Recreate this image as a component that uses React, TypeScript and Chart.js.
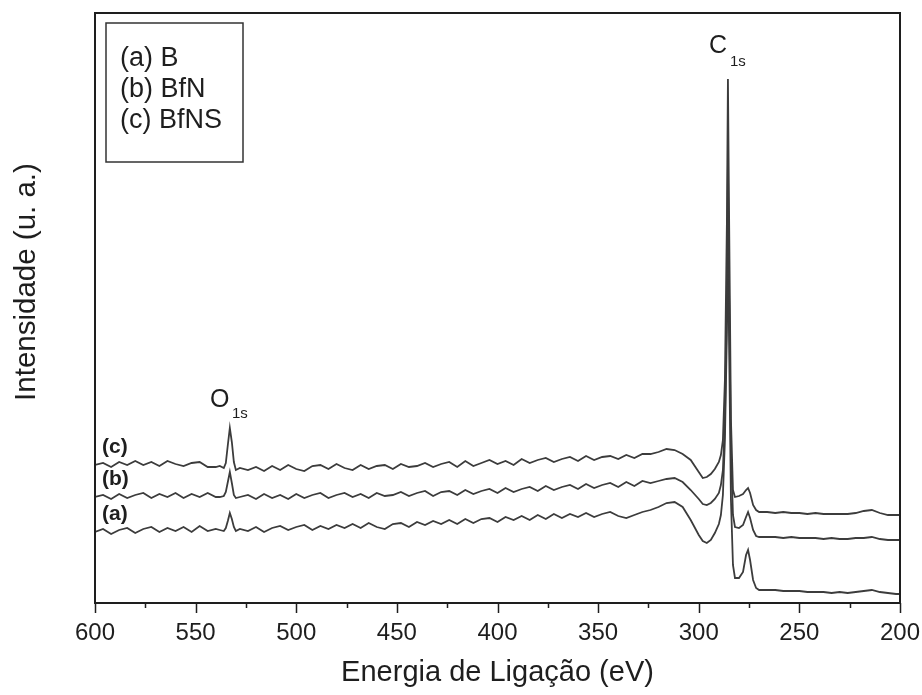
import React, { useEffect, useRef } from 'react';
import { Chart, registerables } from 'chart.js';

Chart.register(...registerables);

const FONT = "'Liberation Sans', Arial, Helvetica, sans-serif";

// Binding energy (eV)
const energies = [
  600, 596, 592, 588, 584, 580, 576, 572, 568, 564, 560, 556, 552, 548, 544, 540,
  538, 536, 535, 534, 533, 532, 531, 530, 528,
  524, 520, 516, 512, 508, 504, 500, 496, 492, 488, 484, 480, 476, 472, 468, 464, 460, 456, 452, 448,
  444, 440, 436, 432, 428, 424, 420, 416, 412, 408, 404, 400, 396, 392, 388, 384, 380, 376, 372, 368,
  364, 360, 356, 352, 348, 344, 340, 336, 332, 328, 324, 320,
  316, 312, 308, 304, 300, 298, 296, 294, 292, 290, 289, 288, 287, 286, 285.5, 285, 284, 283, 282, 280,
  278, 276.5, 275.5, 274.5, 273, 271.5, 270,
  266, 262, 258, 254, 250, 246, 242, 238, 234, 230, 226, 222, 218, 214, 210, 206, 202, 200,
];

// (c) BfNS
const seriesC = [
  138, 140, 136, 141, 138, 142, 138, 141, 137, 142, 139, 137, 140, 141, 136, 136,
  137, 135, 140, 158, 175, 161, 141, 133, 135,
  133, 136, 132, 137, 133, 138, 134, 132, 137, 138, 134, 139, 135, 133, 138, 134, 137, 138, 134, 139,
  136, 137, 140, 136, 139, 141, 136, 142, 137, 140, 143, 139, 142, 138, 144, 140, 143, 145, 141, 144,
  146, 142, 147, 143, 146, 147, 144, 148, 145, 149, 149, 151,
  154, 153, 149, 143, 131, 125, 126, 129, 134, 141, 148, 163, 223, 383, 524, 403, 183, 113, 106, 107,
  109, 113, 115, 110, 98, 93, 91,
  91, 90, 91, 90, 90, 89, 90, 89, 89, 89, 89, 90, 92, 93, 90, 88, 88, 88,
];

// (b) BfN
const seriesB = [
  106, 108, 104, 109, 105, 108, 110, 105, 109, 106, 110, 105, 109, 106, 110, 106,
  106, 107, 111, 121, 131, 120, 108, 105, 106,
  108, 104, 109, 105, 108, 104, 109, 105, 108, 110, 105, 108, 110, 106, 109, 105, 110, 107, 108, 111,
  107, 110, 112, 107, 111, 112, 108, 113, 109, 112, 114, 110, 115, 111, 114, 116, 112, 117, 113, 116,
  118, 114, 119, 115, 118, 120, 116, 121, 117, 122, 120, 122,
  124, 125, 121, 113, 104, 99, 98, 100, 104, 110, 118, 133, 183, 303, 443, 323, 153, 88, 76, 75,
  78, 86, 91, 85, 73, 67, 66,
  66, 66, 65, 66, 65, 65, 65, 64, 65, 64, 64, 65, 65, 66, 64, 63, 63, 63,
];

// (a) B
const seriesA = [
  71, 74, 69, 73, 75, 70, 74, 76, 71, 75, 72, 76, 71, 77, 72, 74,
  73, 72, 75, 82, 90, 84, 76, 72, 74,
  72, 76, 71, 75, 77, 73, 76, 78, 73, 77, 74, 78, 75, 79, 75, 80, 76, 74, 79, 80,
  76, 81, 78, 82, 79, 83, 79, 84, 80, 84, 85, 81, 86, 83, 87, 83, 88, 84, 89, 85,
  89, 86, 90, 86, 89, 91, 87, 85, 88, 91, 93, 96,
  100, 101, 96, 83, 68, 62, 60, 63, 70, 79, 88, 108, 163, 273, 353, 273, 103, 38, 25, 25,
  31, 48, 53, 43, 23, 15, 13,
  13, 13, 12, 12, 12, 11, 11, 11, 10, 11, 10, 11, 12, 13, 11, 10, 9, 9,
];

const majorTicks = [600, 550, 500, 450, 400, 350, 300, 250, 200];
const minorTicks = [575, 525, 475, 425, 375, 325, 275, 225];
const legendLabels = ['(a) B', '(b) BfN', '(c) BfNS'];
const curveLabels = ['(c)', '(b)', '(a)'];

const annotationPlugin = {
  id: 'xpsAnnotations',
  afterDraw(chart: any) {
    const { ctx, chartArea: ca, scales } = chart;
    const xs = scales.x;
    ctx.save();
    // frame
    ctx.strokeStyle = '#1e1e1e';
    ctx.lineWidth = 2;
    ctx.strokeRect(ca.left, ca.top, ca.right - ca.left, ca.bottom - ca.top);
    // ticks
    ctx.lineWidth = 1.5;
    ctx.beginPath();
    for (const v of majorTicks) {
      const px = Math.round(xs.getPixelForValue(v)) + 0.5;
      ctx.moveTo(px, ca.bottom);
      ctx.lineTo(px, ca.bottom + 10);
    }
    for (const v of minorTicks) {
      const px = Math.round(xs.getPixelForValue(v)) + 0.5;
      ctx.moveTo(px, ca.bottom);
      ctx.lineTo(px, ca.bottom + 5);
    }
    ctx.stroke();

    ctx.fillStyle = '#1e1e1e';
    // y title
    ctx.save();
    ctx.translate(27, 282);
    ctx.rotate(-Math.PI / 2);
    ctx.font = `29.5px ${FONT}`;
    ctx.textAlign = 'center';
    ctx.textBaseline = 'middle';
    ctx.fillText('Intensidade (u. a.)', 0, 0);
    ctx.restore();

    // legend box
    ctx.strokeStyle = '#333';
    ctx.lineWidth = 1.5;
    ctx.strokeRect(106, 23, 137, 139);
    ctx.font = `27px ${FONT}`;
    ctx.textAlign = 'left';
    ctx.textBaseline = 'middle';
    legendLabels.forEach((t, i) => ctx.fillText(t, 120, 59 + i * 31));

    // peak labels
    ctx.textBaseline = 'alphabetic';
    ctx.font = `25px ${FONT}`;
    ctx.fillText('O', 210, 407);
    ctx.fillText('C', 709, 53);
    ctx.font = `15px ${FONT}`;
    ctx.fillText('1s', 232, 418);
    ctx.fillText('1s', 730, 66);

    // curve labels
    ctx.font = `bold 21px ${FONT}`;
    ctx.textBaseline = 'middle';
    const ys = [447, 479, 514];
    curveLabels.forEach((t, i) => ctx.fillText(t, 102, ys[i]));
    ctx.restore();
  },
};

export default function App() {
  const canvasRef = useRef<HTMLCanvasElement | null>(null);

  useEffect(() => {
    if (!canvasRef.current) return;
    const mk = (vals: number[]) => energies.map((e, i) => ({ x: e, y: vals[i] }));
    const lineStyle = {
      showLine: true,
      borderColor: '#3c3c3c',
      borderWidth: 1.8,
      pointRadius: 0,
      tension: 0,
      fill: false,
    };
    const chart = new Chart(canvasRef.current, {
      type: 'scatter',
      data: {
        datasets: [
          { label: '(c) BfNS', data: mk(seriesC), ...lineStyle },
          { label: '(b) BfN', data: mk(seriesB), ...lineStyle },
          { label: '(a) B', data: mk(seriesA), ...lineStyle },
        ],
      },
      options: {
        animation: false,
        responsive: true,
        maintainAspectRatio: false,
        layout: { padding: { top: 13, right: 22, left: 0, bottom: 0 } },
        plugins: { legend: { display: false }, tooltip: { enabled: false } },
        scales: {
          x: {
            type: 'linear',
            reverse: true,
            min: 200,
            max: 600,
            position: 'bottom',
            afterFit: (s: any) => {
              s.height = 92;
              s.paddingLeft = 0;
              s.paddingRight = 0;
            },
            grid: { display: false, drawTicks: false },
            border: { display: false },
            ticks: {
              stepSize: 50,
              padding: 16,
              autoSkip: false,
              maxRotation: 0,
              color: '#1e1e1e',
              font: { size: 24, family: FONT },
            },
            title: {
              display: true,
              text: 'Energia de Ligação (eV)',
              color: '#1e1e1e',
              font: { size: 29, family: FONT },
              padding: { top: 0, bottom: 5 },
            },
          },
          y: {
            min: 0,
            max: 590,
            afterFit: (s: any) => {
              s.width = 95;
              s.paddingTop = 0;
              s.paddingBottom = 0;
            },
            grid: { display: false, drawTicks: false },
            border: { display: false },
            ticks: { display: false },
          },
        },
      },
      plugins: [annotationPlugin],
    } as any);
    return () => chart.destroy();
  }, []);

  return (
    <div style={{ position: 'absolute', left: 0, top: 0, width: 922, height: 695, background: '#fff' }}>
      <canvas ref={canvasRef} />
    </div>
  );
}
